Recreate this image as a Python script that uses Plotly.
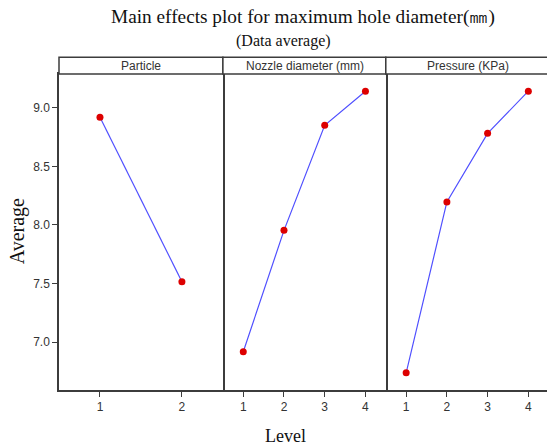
import plotly.graph_objects as go

# ---- data ----
panel_titles = ["Particle", "Nozzle diameter (mm)", "Pressure (KPa)"]
particle_levels = [1, 2]
particle_means = [8.92, 7.515]
nozzle_levels = [1, 2, 3, 4]
nozzle_means = [6.917, 7.954, 8.852, 9.143]
pressure_levels = [1, 2, 3, 4]
pressure_means = [6.737, 8.197, 8.783, 9.143]
y_ticks = [7.0, 7.5, 8.0, 8.5, 9.0]
y_tick_labels = ["7.0", "7.5", "8.0", "8.5", "9.0"]

W, H = 547, 448
ML, MR, MT, MB = 58.7, 0, 74, 58
PW = W - ML - MR
PH = H - MT - MB

def px_x(px):
    return (px - ML) / PW

def px_y(py):
    return (H - MB - py) / PH

line_col = "#3c3c3c"
tick_font = dict(family="Liberation Sans, Arial, sans-serif", size=12, color="#333333")
serif = "Liberation Serif, Times New Roman, serif"

fig = go.Figure()
series = [(particle_levels, particle_means), (nozzle_levels, nozzle_means), (pressure_levels, pressure_means)]
for i, (lv, mv) in enumerate(series):
    sfx = "" if i == 0 else str(i + 1)
    fig.add_trace(go.Scatter(
        x=lv, y=mv, mode="lines+markers",
        line=dict(color="#5050ff", width=1.2),
        marker=dict(color="#dd0000", size=7),
        xaxis="x" + sfx, yaxis="y" + sfx, showlegend=False,
    ))

edges = [58.7, 222.7, 385.7, 547]
yr = [6.59, 9.29]
x_ranges = [[0.5, 2.5], [0.5, 4.5], [0.5, 0.5 + (547 - 385.7) / 40.75]]
layout = dict(
    width=W, height=H,
    margin=dict(l=ML, r=MR, t=MT, b=MB),
    paper_bgcolor="white", plot_bgcolor="white",
)
for i in range(3):
    sfx = "" if i == 0 else str(i + 1)
    dom = [px_x(edges[i]), px_x(edges[i + 1])]
    tv = [1, 2] if i == 0 else [1, 2, 3, 4]
    layout["xaxis" + sfx] = dict(
        domain=dom, range=x_ranges[i], tickvals=tv, ticktext=[str(t) for t in tv],
        showgrid=False, zeroline=False, showline=True, mirror=True,
        linecolor=line_col, linewidth=1.5, ticks="outside", ticklen=5,
        tickcolor=line_col, tickwidth=1, tickfont=tick_font,
        anchor="y" + sfx,
    )
    ya = dict(domain=[0, 1], range=yr, showgrid=False, zeroline=False,
              linecolor=line_col, linewidth=1.5, anchor="x" + sfx)
    if i == 0:
        ya.update(showline=True, mirror=True, tickvals=y_ticks, ticktext=y_tick_labels,
                  ticks="outside", ticklen=5, tickcolor=line_col, tickwidth=1,
                  tickfont=tick_font)
    elif i == 1:
        ya.update(showline=True, mirror=False, side="right",
                  showticklabels=False, ticks="")
    else:
        ya.update(showline=False, showticklabels=False, ticks="")
    layout["yaxis" + sfx] = ya

fig.update_layout(**layout)

# header strip
strip_top = px_y(57.3)
shapes = []
annotations = []
for i in range(3):
    x0 = px_x(edges[i])
    x1 = px_x(edges[i + 1]) if i < 2 else px_x(edges[i] + 200)
    shapes.append(dict(type="rect", xref="paper", yref="paper",
                       x0=x0, x1=x1, y0=1, y1=strip_top,
                       line=dict(color=line_col, width=1.5), fillcolor="white"))
    cx = px_x(edges[i] + 82)
    annotations.append(dict(text=panel_titles[i], xref="paper", yref="paper",
                            x=cx, y=(1 + strip_top) / 2, xanchor="center", yanchor="middle",
                            showarrow=False, font=tick_font))

annotations += [
    dict(text="Main effects plot for maximum hole diameter(㎜)", xref="paper", yref="paper",
         x=px_x(303), y=px_y(17), xanchor="center", yanchor="middle", showarrow=False,
         font=dict(family=serif, size=19.3, color="#111111")),
    dict(text="(Data average)", xref="paper", yref="paper",
         x=px_x(283), y=px_y(41), xanchor="center", yanchor="middle", showarrow=False,
         font=dict(family=serif, size=16, color="#111111")),
    dict(text="Average", xref="paper", yref="paper", textangle=-90,
         x=px_x(17), y=px_y(231), xanchor="center", yanchor="middle", showarrow=False,
         font=dict(family=serif, size=20, color="#111111")),
    dict(text="Level", xref="paper", yref="paper",
         x=px_x(285), y=px_y(436), xanchor="center", yanchor="middle", showarrow=False,
         font=dict(family=serif, size=18, color="#111111")),
]
fig.update_layout(shapes=shapes, annotations=annotations)

fig.write_html("out.html", config={"displayModeBar": False},
               post_script="document.body.style.margin='0';document.body.style.overflow='hidden';")
